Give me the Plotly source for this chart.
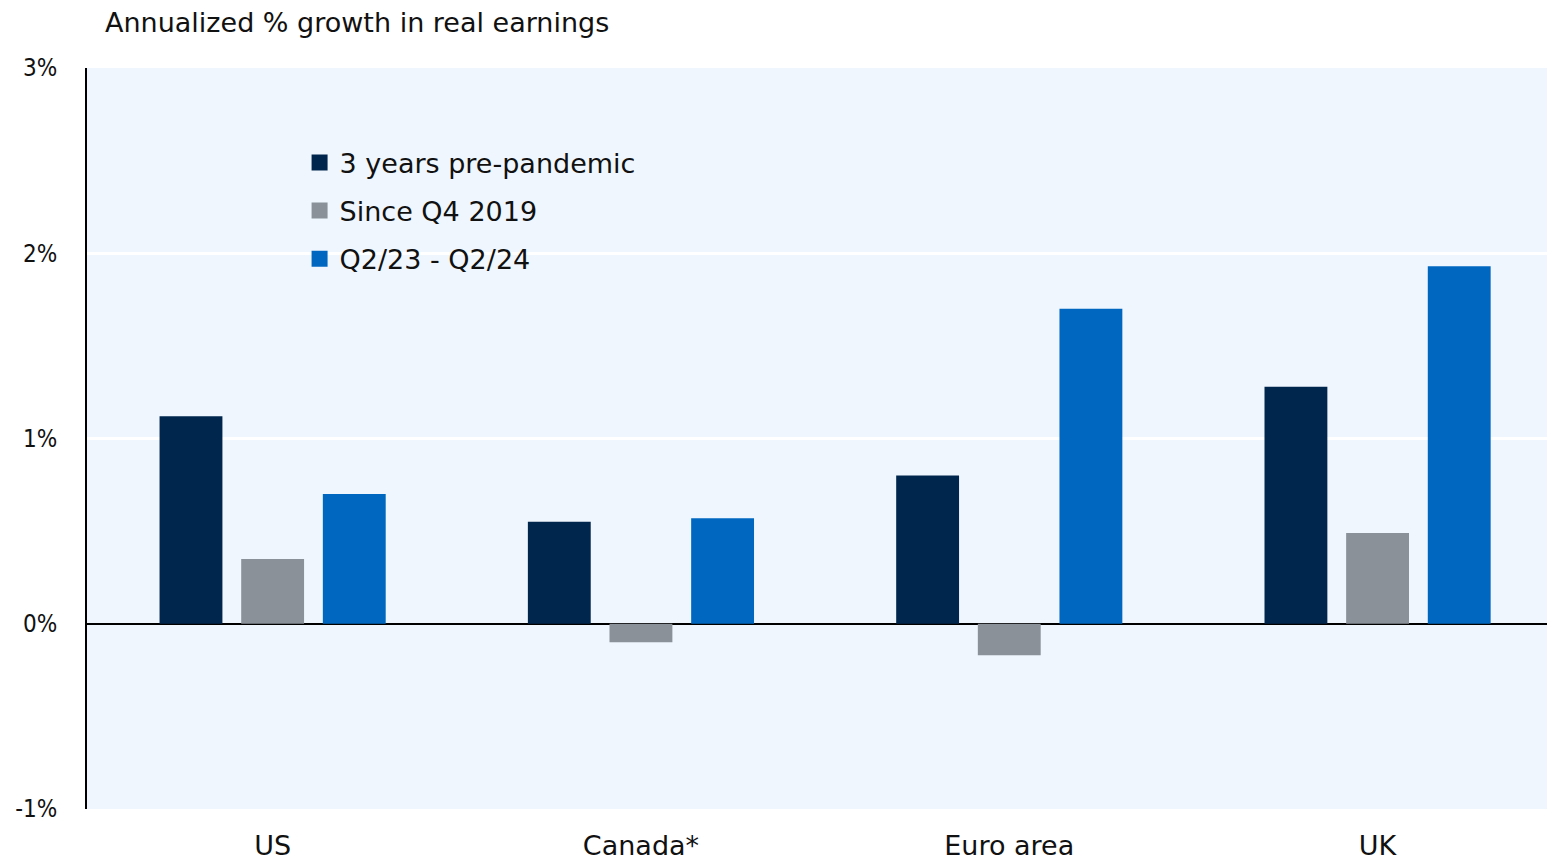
import plotly.graph_objects as go

# ── Data ──────────────────────────────────────────────────────────────────────
regions = ["US", "Canada*", "Euro area", "UK"]
pre_pandemic = [1.12, 0.55, 0.80, 1.28]
since_q4_2019 = [0.35, -0.10, -0.17, 0.49]
q2_23_q2_24 = [0.70, 0.57, 1.70, 1.93]

series = [
    ("3 years pre-pandemic", pre_pandemic, "#00264d"),
    ("Since Q4 2019", since_q4_2019, "#8a9199"),
    ("Q2/23 - Q2/24", q2_23_q2_24, "#0067c0"),
]

FONT = "DejaVu Sans, sans-serif"
FONT_COND = "DejaVu Sans Condensed, DejaVu Sans, sans-serif"

fig = go.Figure()
for name, vals, color in series:
    fig.add_trace(go.Bar(
        x=regions, y=vals, name=name, showlegend=False,
        marker=dict(color=color, line=dict(width=0)),
    ))
    # legend entry with a bigger square swatch
    fig.add_trace(go.Scatter(
        x=[None], y=[None], mode="markers", name=name, legendgroup=name,
        marker=dict(symbol="square", size=16, color=color),
        showlegend=True, hoverinfo="skip",
    ))

# title above the plot
fig.add_annotation(
    xref="paper", yref="paper", x=0.011, y=1.0, yshift=46,
    xanchor="left", yanchor="middle",
    text="Annualized % growth in real earnings", showarrow=False,
    font=dict(size=27, color="#111111", family=FONT),
)

fig.update_layout(
    width=1547, height=862,
    barmode="group", bargap=0.335, bargroupgap=0.23,
    paper_bgcolor="white",
    plot_bgcolor="#eff6fd",
    margin=dict(l=87, r=0, t=68, b=53),
    font=dict(family=FONT, size=24, color="#111111"),
    showlegend=True,
    legend=dict(
        x=0.1456, y=0.905, xanchor="left", yanchor="top",
        bgcolor="rgba(0,0,0,0)", font=dict(size=27, family=FONT),
        tracegroupgap=10, itemwidth=30, traceorder="grouped",
    ),
    xaxis=dict(
        range=[-0.504, 3.46], automargin=False,
        showgrid=False, ticks="", showline=False,
        tickfont=dict(size=27, family=FONT), ticklabelstandoff=18,
    ),
    yaxis=dict(
        range=[-1, 3], automargin=False,
        tickvals=[-1, 0, 1, 2, 3], ticktext=["-1%", "0%", "1%", "2%", "3%"],
        showgrid=True, gridcolor="white", gridwidth=3,
        zeroline=True, zerolinecolor="black", zerolinewidth=2,
        showline=True, linecolor="black", linewidth=2,
        ticks="", ticklabelstandoff=23,
        tickfont=dict(size=24, family=FONT_COND),
    ),
)

# drop the default 8px body margin so the figure fills the window exactly
fig.write_html(
    "out.html",
    config={"displayModeBar": False},
    post_script="document.body.style.margin='0';",
)
